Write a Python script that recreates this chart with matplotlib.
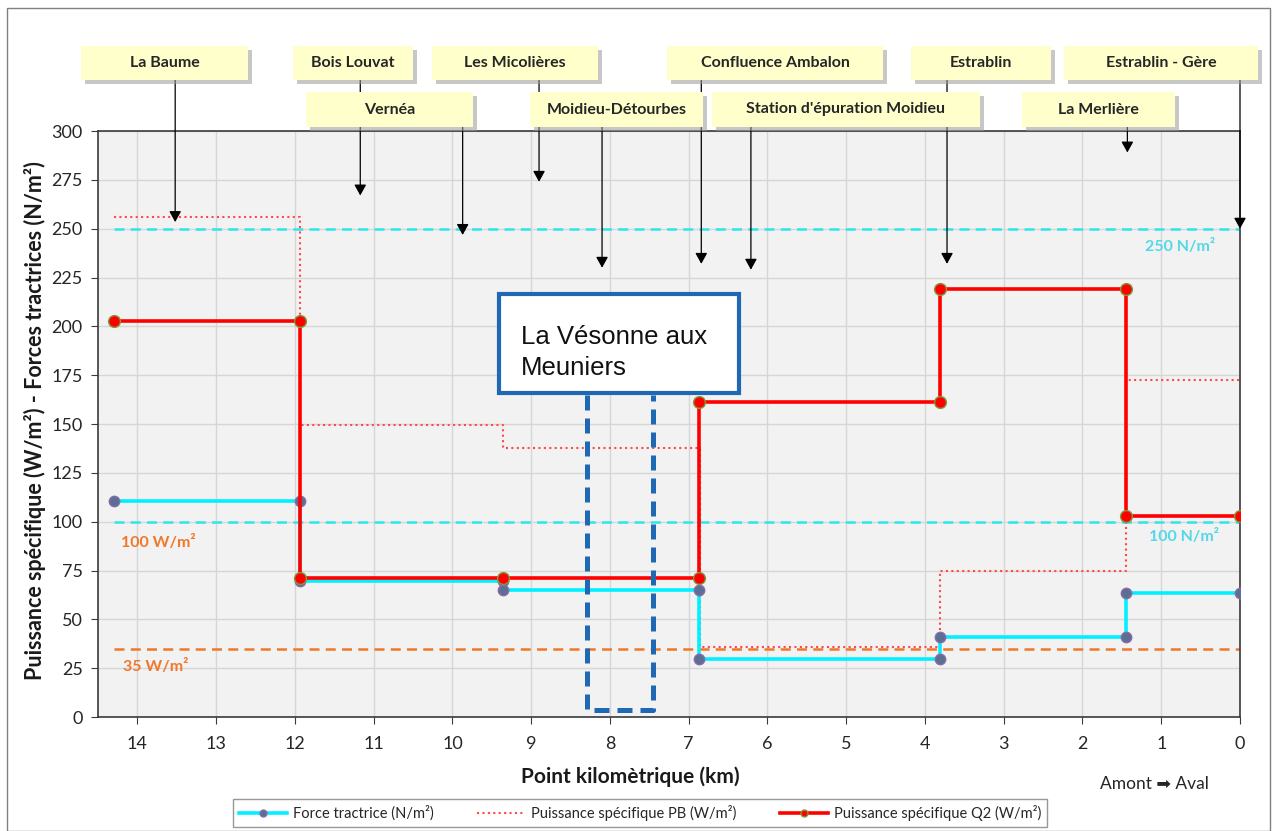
import matplotlib
matplotlib.use('Agg')
import matplotlib.pyplot as plt
from matplotlib.patches import Rectangle
from matplotlib.lines import Line2D

# ---------------- data ----------------
km_force = [14.30, 11.94, 11.94, 9.36, 9.36, 6.875, 6.875, 3.81, 3.81, 1.45, 1.45, 0.0]
force = [110.7, 110.7, 69.8, 69.8, 65.0, 65.0, 29.8, 29.8, 40.8, 40.8, 63.3, 63.3]

km_pb = [14.30, 11.94, 11.94, 9.36, 9.36, 6.86, 6.86, 3.81, 3.81, 1.45, 1.45, 0.0]
pb = [256, 256, 149.5, 149.5, 137.7, 137.7, 36.0, 36.0, 74.5, 74.5, 172.7, 172.7]

km_q2 = [14.30, 11.94, 11.94, 9.36, 6.875, 6.875, 3.81, 3.81, 1.45, 1.45, 0.0]
q2 = [202.5, 202.5, 71.4, 71.4, 71.4, 161.2, 161.2, 219.1, 219.1, 102.7, 102.7]

ref_km = [14.30, 0.0]
ref_cyan = [250, 100]
ref_orange = [35]

sites = ["La Baume", "Bois Louvat", "Vernéa", "Les Micolières", "Moidieu-Détourbes",
         "Confluence Ambalon", "Station d'épuration Moidieu", "Estrablin",
         "Estrablin - Gère", "La Merlière"]
site_km = [13.52, 11.17, 9.87, 8.90, 8.10, 6.84, 6.21, 3.72, 0.0, 1.43]
site_tip = [253.4, 267.0, 246.8, 274.0, 230.0, 232.0, 229.0, 232.0, 250.0, 289.0]

x_ticks = list(range(14, -1, -1))
y_ticks = list(range(0, 301, 25))

legend_labels = ["Force tractrice (N/m²)", "Puissance spécifique PB (W/m²)",
                 "Puissance spécifique Q2 (W/m²)"]

# ---------------- layout ----------------
W, H = 1276, 831
plt.rcParams['font.family'] = ['Lato', 'DejaVu Sans']
fig = plt.figure(figsize=(W / 100, H / 100), dpi=100)


def fx(x):
    return x / W


def fy(y):
    return 1 - y / H


ax = fig.add_axes([fx(98), fy(717), (1240 - 98) / W, (717 - 131) / H])
ax.set_facecolor('#f2f2f2')
ax.set_xlim(14.5, 0)
ax.set_ylim(0, 300)
ax.set_xticks(x_ticks)
ax.set_yticks(y_ticks)
ax.grid(True, color='#d6d6d6', lw=1.0)
ax.set_axisbelow(True)
for s in ax.spines.values():
    s.set_color('#3a3a3a')
    s.set_linewidth(1.2)
ax.tick_params(axis='both', direction='out', length=5, color='#3a3a3a',
               labelsize=13, labelcolor='#262626')
ax.tick_params(axis='y', pad=6)
ax.tick_params(axis='x', pad=9)

ax.set_xlabel("Point kilomètrique (km)", fontsize=15, fontweight='bold', color='#1a1a1a')
ax.set_ylabel("Puissance spécifique (W/m²) - Forces tractrices (N/m²)", fontsize=15.5,
              fontweight='bold', color='#1a1a1a')
ax.xaxis.set_label_coords((630 - 98) / 1142, (717 - 777) / 586)
ax.yaxis.set_label_coords((35 - 98) / 1142, (717 - 421) / 586)
ax.xaxis.label.set_va('center')
ax.yaxis.label.set_va('center')

# reference lines
cyan_ref = '#2ee6ee'
orange = '#f0782a'
for v in ref_cyan:
    ax.plot(ref_km, [v, v], color=cyan_ref, lw=1.8, ls=(0, (4, 2.5)), zorder=2)
for v in ref_orange:
    ax.plot(ref_km, [v, v], color=orange, lw=1.8, ls=(0, (4, 2.5)), zorder=2)

# PB dotted
ax.plot(km_pb, pb, color='#ff4a4a', lw=1.5, ls=(0, (1, 1.6)), zorder=3)

# Force tractrice
ax.plot(km_force, force, color='#00f0ff', lw=2.6, marker='o', ms=7.5,
        mfc='#5b6f92', mec='#8a6aa8', mew=1.0, zorder=4)

# Q2
ax.plot(km_q2, q2, color='#ff0000', lw=2.6, marker='o', ms=8.5,
        mfc='#ff0000', mec='#7f9a3a', mew=1.0, zorder=5)

# labels on reference lines
ax.text(fx(158), fy(543), "100 W/m²", transform=fig.transFigure, ha='center', va='center',
        fontsize=11.5, fontweight='bold', color=orange)
ax.text(fx(156), fy(667), "35 W/m²", transform=fig.transFigure, ha='center', va='center',
        fontsize=11.5, fontweight='bold', color=orange)
ax.text(fx(1180), fy(246), "250 N/m²", transform=fig.transFigure, ha='center', va='center',
        fontsize=11.5, fontweight='bold', color='#55d8e6')
ax.text(fx(1184), fy(536), "100 N/m²", transform=fig.transFigure, ha='center', va='center',
        fontsize=11.5, fontweight='bold', color='#55d8e6')

# La Vésonne aux Meuniers box + dashed zone
blue = '#1f68b3'
ax.plot([fx(587), fx(587), fx(653), fx(653)], [fy(395), fy(710), fy(710), fy(395)],
        transform=fig.transFigure, color=blue, lw=3.6, ls=(0, (3, 1.6)),
        clip_on=False, zorder=7, solid_joinstyle='miter')
ax.add_patch(Rectangle((fx(499), fy(393)), (739 - 499) / W, (393 - 294) / H,
                       transform=fig.transFigure, facecolor='white', edgecolor=blue,
                       lw=3.0, zorder=8))
ax.text(fx(521), fy(337), "La Vésonne aux", transform=fig.transFigure,
        ha='left', va='center', fontsize=18.5, family=['Liberation Sans', 'DejaVu Sans'],
        color='#111111', zorder=9)
ax.text(fx(521), fy(368), "Meuniers", transform=fig.transFigure,
        ha='left', va='center', fontsize=18.5, family=['Liberation Sans', 'DejaVu Sans'],
        color='#111111', zorder=9)

# site annotations
box_px = [(81, 248, 0), (293, 413, 0), (306, 473, 1), (432, 598, 0), (530, 703, 1),
          (667, 883, 0), (712, 980, 1), (911, 1051, 0), (1064, 1258, 0), (1022, 1175, 1)]
rows = [(46, 80), (92, 127)]
for name, k, tip, (x0, x1, r) in zip(sites, site_km, site_tip, box_px):
    y0, y1 = rows[r]
    ax.annotate('', xy=(k, tip), xycoords='data',
                xytext=(k, fy(y1)), textcoords=('data', 'figure fraction'),
                annotation_clip=False,
                arrowprops=dict(arrowstyle='-|>,head_length=0.65,head_width=0.36',
                                mutation_scale=10, color='black', lw=0.9,
                                shrinkA=0, shrinkB=0), zorder=6)
    fig.add_artist(Rectangle((fx(x0 + 4), fy(y1 + 4)), (x1 - x0) / W, (y1 - y0) / H,
                             transform=fig.transFigure, facecolor='#9a9a9a', alpha=0.55,
                             edgecolor='none', zorder=5))
    fig.add_artist(Rectangle((fx(x0), fy(y1)), (x1 - x0) / W, (y1 - y0) / H,
                             transform=fig.transFigure, facecolor='#ffffcc',
                             edgecolor='none', zorder=6))
    fig.text(fx((x0 + x1) / 2), fy((y0 + y1) / 2), name, ha='center', va='center',
             fontsize=11.5, fontweight='bold', color='#262626', zorder=7)

# legend
handles = [
    Line2D([], [], color='#00f0ff', lw=2.6, marker='o', ms=5, mfc='#5b6f92', mec='#8a6aa8'),
    Line2D([], [], color='#ff4a4a', lw=1.5, ls=(0, (1, 1.6))),
    Line2D([], [], color='#ff0000', lw=2.6, marker='o', ms=5, mfc='#ff0000', mec='#7f9a3a'),
]
leg = fig.legend(handles, legend_labels, loc='center', bbox_to_anchor=(fx(640), fy(813)),
                 ncol=3, frameon=True, fancybox=False, edgecolor='#7f7f7f', fontsize=10.5,
                 handlelength=3.3, columnspacing=3.0, handletextpad=0.4, borderpad=0.4)
leg.get_frame().set_linewidth(1.0)
for t in leg.get_texts():
    t.set_color('#262626')

fig.text(fx(1154), fy(784), "Amont ➡ Aval", ha='center', va='center', fontsize=12.5,
         color='#262626', family=['Lato', 'DejaVu Sans'])

# outer border
fig.add_artist(Rectangle((fx(7), fy(831)), (1270 - 7) / W, (831 - 8) / H,
                         transform=fig.transFigure, fill=False, edgecolor='#808080',
                         lw=1.0, zorder=0))

fig.savefig('out.png', dpi=100)
